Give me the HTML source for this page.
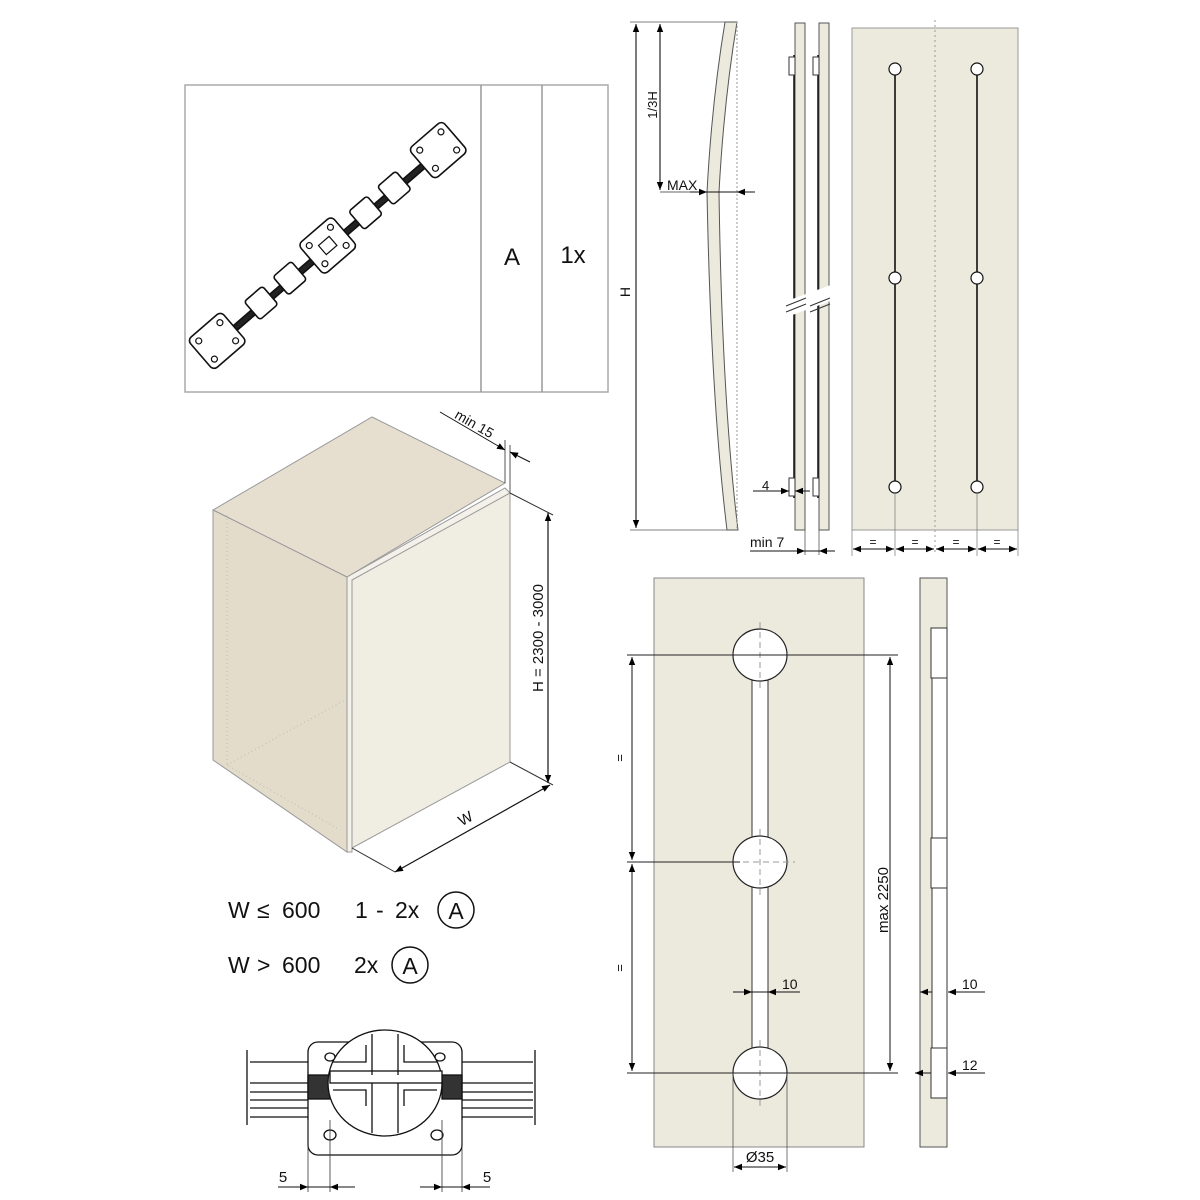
<!DOCTYPE html>
<html><head><meta charset="utf-8"><style>
html,body{margin:0;padding:0;background:#fff}
svg{display:block}
text{font-family:"Liberation Sans","DejaVu Sans",sans-serif;fill:#111}
</style></head><body>
<svg width="1200" height="1200" viewBox="0 0 1200 1200" xmlns="http://www.w3.org/2000/svg">
<defs>
<marker id="a" viewBox="0 0 10 10" refX="10" refY="5" markerWidth="11" markerHeight="8" orient="auto-start-reverse" markerUnits="userSpaceOnUse"><path d="M0,1 L10,5 L0,9 z" fill="#000"/></marker>
</defs>

<!-- top box -->
<rect x="185" y="85" width="423" height="307" fill="#fff" stroke="#aaa" stroke-width="1.5"/>
<line x1="481" y1="85" x2="481" y2="392" stroke="#999" stroke-width="1.5"/>
<line x1="542" y1="85" x2="542" y2="392" stroke="#999" stroke-width="1.5"/>
<text x="512" y="265" font-size="24" text-anchor="middle">A</text>
<text x="573" y="263" font-size="24" text-anchor="middle">1x</text>

<!-- chain -->
<g transform="translate(329,247) rotate(-40.8)" stroke="#111" stroke-width="1.6" fill="#fff">
  <rect x="-165" y="-3" width="330" height="6" fill="#222"/>
  <rect x="-168" y="-22" width="44" height="40" rx="5"/>
  <rect x="-100" y="-14" width="24" height="24" rx="3"/>
  <rect x="-62" y="-14" width="24" height="24" rx="3"/>
  <rect x="-22" y="-22" width="44" height="40" rx="5"/>
  <rect x="38" y="-14" width="24" height="24" rx="3"/>
  <rect x="76" y="-14" width="24" height="24" rx="3"/>
  <rect x="124" y="-22" width="44" height="40" rx="5"/>
  <g fill="none" stroke-width="1.2">
    <circle cx="-160" cy="-14" r="3"/><circle cx="-132" cy="-14" r="3"/><circle cx="-160" cy="10" r="3"/><circle cx="-132" cy="10" r="3"/>
    <circle cx="132" cy="-14" r="3"/><circle cx="160" cy="-14" r="3"/><circle cx="132" cy="10" r="3"/><circle cx="160" cy="10" r="3"/>
    <circle cx="-14" cy="-14" r="3"/><circle cx="14" cy="-14" r="3"/><circle cx="-14" cy="10" r="3"/><circle cx="14" cy="10" r="3"/>
    <rect x="-7" y="-8" width="14" height="12"/>
  </g>
</g>

<!-- cabinet -->
<polygon points="213,510 372,417 505,483 347,577" fill="#e6dfd0" stroke="#999" stroke-width="1"/>
<polygon points="213,510 347,577 347,852 213,760" fill="#e3dccb" stroke="#999" stroke-width="1"/>
<polyline points="227,515 227,765 340,830" fill="none" stroke="#bbb" stroke-dasharray="1,3"/>
<polyline points="227,765 345,700" fill="none" stroke="#bbb" stroke-dasharray="1,3"/>
<polygon points="347,577 505,488 510,493 352,582 352,852 347,852" fill="#f3f1ea" stroke="#999" stroke-width="1"/>
<polygon points="352,580 510,493 510,762 352,848" fill="#f0ede2" stroke="#999" stroke-width="1"/>
<line x1="510" y1="493" x2="553" y2="515" stroke="#333" stroke-width="1"/>
<line x1="510" y1="762" x2="553" y2="785" stroke="#333" stroke-width="1"/>
<line x1="548" y1="513" x2="548" y2="783" stroke="#111" stroke-width="1.2" marker-start="url(#a)" marker-end="url(#a)"/>
<text transform="translate(543,638) rotate(-90)" font-size="15" text-anchor="middle">H = 2300 - 3000</text>
<line x1="352" y1="848" x2="395" y2="872" stroke="#333" stroke-width="1"/>
<line x1="395" y1="872" x2="550" y2="785" stroke="#111" stroke-width="1.2" marker-start="url(#a)" marker-end="url(#a)"/>
<text transform="translate(468,823) rotate(-29)" font-size="15" text-anchor="middle">W</text>
<line x1="505" y1="483" x2="505" y2="440" stroke="#555" stroke-width="1"/>
<line x1="510" y1="493" x2="510" y2="445" stroke="#555" stroke-width="1"/>
<line x1="440" y1="412" x2="505" y2="450" stroke="#111" stroke-width="1" marker-end="url(#a)"/>
<line x1="530" y1="462" x2="510" y2="452" stroke="#111" stroke-width="1" marker-end="url(#a)"/>
<text transform="translate(472,428) rotate(30)" font-size="14" text-anchor="middle">min 15</text>

<!-- W texts -->
<text y="918" font-size="23"><tspan x="228">W</tspan><tspan x="257">≤</tspan><tspan x="282">600</tspan><tspan x="355">1</tspan><tspan x="376">-</tspan><tspan x="395">2x</tspan></text>
<circle cx="456" cy="910" r="18" fill="none" stroke="#111" stroke-width="1.5"/>
<text x="456" y="919" font-size="23" text-anchor="middle">A</text>
<text y="973" font-size="23"><tspan x="228">W</tspan><tspan x="257">&gt;</tspan><tspan x="282">600</tspan><tspan x="354">2x</tspan></text>
<circle cx="410" cy="965" r="18" fill="none" stroke="#111" stroke-width="1.5"/>
<text x="410" y="974" font-size="23" text-anchor="middle">A</text>

<!-- bottom fitting -->
<g stroke="#111" stroke-width="1.3" fill="#fff">
  <path d="M247,1050 L247,1125 M535,1050 L535,1125" fill="none"/>
  <path d="M250,1062 H308 M250,1083 H308 M250,1092 H308 M250,1100 H308 M250,1108 H308 M250,1117 H308" fill="none"/>
  <path d="M462,1062 H533 M462,1083 H533 M462,1092 H533 M462,1100 H533 M462,1108 H533 M462,1117 H533" fill="none"/>
  <rect x="308" y="1042" width="154" height="113" rx="10"/>
  <rect x="308" y="1075" width="22" height="24" fill="#333"/>
  <rect x="442" y="1075" width="20" height="24" fill="#333"/>
  <ellipse cx="385" cy="1083" rx="57" ry="53"/>
  <rect x="330" y="1071" width="112" height="12"/>
  <path d="M372,1034 V1075 M398,1034 V1075 M372,1083 V1133 M398,1083 V1133 M333,1062 H366 V1045 M404,1045 V1062 H437 M333,1090 H366 V1106 M404,1106 V1090 H437" fill="none"/>
  <ellipse cx="330" cy="1057" rx="5" ry="4"/><ellipse cx="440" cy="1057" rx="5" ry="4"/>
  <ellipse cx="330" cy="1135" rx="6" ry="5"/><ellipse cx="437" cy="1135" rx="6" ry="5"/>
</g>
<g stroke="#333" stroke-width="0.8">
  <line x1="308" y1="1120" x2="308" y2="1192"/><line x1="330" y1="1120" x2="330" y2="1192"/>
  <line x1="442" y1="1120" x2="442" y2="1192"/><line x1="462" y1="1120" x2="462" y2="1192"/>
</g>
<line x1="278" y1="1187" x2="308" y2="1187" stroke="#111" marker-end="url(#a)"/>
<line x1="355" y1="1187" x2="330" y2="1187" stroke="#111" marker-end="url(#a)"/>
<line x1="308" y1="1187" x2="330" y2="1187" stroke="#111"/>
<line x1="420" y1="1187" x2="442" y2="1187" stroke="#111" marker-end="url(#a)"/>
<line x1="490" y1="1187" x2="462" y2="1187" stroke="#111" marker-end="url(#a)"/>
<line x1="442" y1="1187" x2="462" y2="1187" stroke="#111"/>
<text x="283" y="1182" font-size="15" text-anchor="middle">5</text>
<text x="487" y="1182" font-size="15" text-anchor="middle">5</text>

<!-- top right: bent panel -->
<line x1="630" y1="22" x2="730" y2="22" stroke="#555" stroke-width="0.8"/>
<line x1="630" y1="530" x2="730" y2="530" stroke="#555" stroke-width="0.8"/>
<line x1="636" y1="24" x2="636" y2="528" stroke="#111" stroke-width="1.1" marker-start="url(#a)" marker-end="url(#a)"/>
<text transform="translate(630,292) rotate(-90)" font-size="14" text-anchor="middle">H</text>
<line x1="660" y1="24" x2="660" y2="190" stroke="#111" stroke-width="1.1" marker-start="url(#a)" marker-end="url(#a)"/>
<text transform="translate(657,105) rotate(-90)" font-size="13" text-anchor="middle">1/3H</text>
<line x1="660" y1="192" x2="705" y2="192" stroke="#333" stroke-width="0.8"/>
<text x="667" y="190" font-size="14">MAX</text>
<path d="M725,22 H737 Q724,100 719,192 Q722,400 738,530 H727 Q711,400 707,192 Q712,100 725,22 Z" fill="#ece9dd" stroke="#555" stroke-width="1"/>
<line x1="737" y1="22" x2="737" y2="530" stroke="#999" stroke-dasharray="2,2"/>
<line x1="690" y1="192" x2="707" y2="192" stroke="#111" marker-end="url(#a)"/>
<line x1="755" y1="192" x2="737" y2="192" stroke="#111" marker-end="url(#a)"/>
<line x1="707" y1="192" x2="737" y2="192" stroke="#111"/>

<!-- strips -->
<rect x="795" y="23" width="10" height="507" fill="#ece9dd" stroke="#555"/>
<rect x="819" y="23" width="10" height="507" fill="#ece9dd" stroke="#555"/>
<g stroke="#111" stroke-width="1.5"><line x1="794" y1="55" x2="794" y2="498"/><line x1="818" y1="55" x2="818" y2="498"/></g>
<g fill="#fff" stroke="#333"><rect x="789" y="57" width="6" height="18"/><rect x="813" y="57" width="6" height="18"/><rect x="789" y="478" width="6" height="18"/><rect x="813" y="478" width="6" height="18"/></g>
<rect x="785" y="293" width="50" height="15" fill="#fff" transform="rotate(-20 810 300)"/>
<g stroke="#333"><line x1="786" y1="306" x2="806" y2="298"/><line x1="786" y1="312" x2="806" y2="304"/><line x1="810" y1="306" x2="830" y2="298"/><line x1="810" y1="312" x2="830" y2="304"/></g>
<line x1="753" y1="491" x2="789" y2="491" stroke="#111" marker-end="url(#a)"/>
<line x1="810" y1="491" x2="795" y2="491" stroke="#111" marker-end="url(#a)"/>
<text x="762" y="490" font-size="13">4</text>
<line x1="805" y1="530" x2="805" y2="555" stroke="#555" stroke-width="0.8"/><line x1="819" y1="530" x2="819" y2="555" stroke="#555" stroke-width="0.8"/>
<line x1="750" y1="551" x2="805" y2="551" stroke="#111" marker-end="url(#a)"/>
<line x1="835" y1="551" x2="819" y2="551" stroke="#111" marker-end="url(#a)"/>
<line x1="805" y1="551" x2="819" y2="551" stroke="#111"/>
<text x="750" y="547" font-size="14">min 7</text>

<!-- panel with 2 rails -->
<rect x="852" y="28" width="166" height="502" fill="#ece9dd" stroke="#999"/>
<line x1="935" y1="20" x2="935" y2="555" stroke="#999" stroke-dasharray="2,3"/>
<g stroke="#111" stroke-width="1.6"><line x1="895" y1="68" x2="895" y2="487"/><line x1="977" y1="68" x2="977" y2="487"/></g>
<g fill="#fff" stroke="#111" stroke-width="1.2">
<ellipse cx="895" cy="69" rx="6" ry="6"/><ellipse cx="977" cy="69" rx="6" ry="6"/>
<ellipse cx="895" cy="278" rx="6" ry="6"/><ellipse cx="977" cy="278" rx="6" ry="6"/>
<ellipse cx="895" cy="487" rx="6" ry="6"/><ellipse cx="977" cy="487" rx="6" ry="6"/></g>
<g stroke="#777" stroke-width="0.7"><line x1="852" y1="530" x2="852" y2="556"/><line x1="895" y1="493" x2="895" y2="556"/><line x1="977" y1="493" x2="977" y2="556"/><line x1="1018" y1="530" x2="1018" y2="556"/></g>
<g stroke="#111" stroke-width="1">
<line x1="873" y1="549" x2="853" y2="549" marker-end="url(#a)"/><line x1="873" y1="549" x2="894" y2="549" marker-end="url(#a)"/>
<line x1="915" y1="549" x2="896" y2="549" marker-end="url(#a)"/><line x1="915" y1="549" x2="934" y2="549" marker-end="url(#a)"/>
<line x1="956" y1="549" x2="936" y2="549" marker-end="url(#a)"/><line x1="956" y1="549" x2="976" y2="549" marker-end="url(#a)"/>
<line x1="997" y1="549" x2="978" y2="549" marker-end="url(#a)"/><line x1="997" y1="549" x2="1017" y2="549" marker-end="url(#a)"/>
</g>
<g font-size="12" text-anchor="middle"><text x="873" y="546">=</text><text x="915" y="546">=</text><text x="956" y="546">=</text><text x="997" y="546">=</text></g>

<!-- big panel bottom right -->
<rect x="654" y="578" width="210" height="569" fill="#ece9dd" stroke="#888"/>
<rect x="752" y="670" width="16" height="390" fill="#fff" stroke="#333"/>
<g fill="#fff" stroke="#222" stroke-width="1.2">
<ellipse cx="760" cy="655" rx="27" ry="26"/><ellipse cx="760" cy="862" rx="27" ry="26"/><ellipse cx="760" cy="1073" rx="27" ry="26"/></g>
<g stroke="#999" stroke-dasharray="6,4"><line x1="760" y1="622" x2="760" y2="690"/><line x1="760" y1="829" x2="760" y2="897"/><line x1="760" y1="1040" x2="760" y2="1108"/><line x1="733" y1="862" x2="795" y2="862"/></g>
<g stroke="#222" stroke-width="1"><line x1="627" y1="655" x2="898" y2="655"/><line x1="627" y1="862" x2="740" y2="862"/><line x1="627" y1="1073" x2="898" y2="1073"/></g>
<line x1="632" y1="657" x2="632" y2="860" stroke="#111" marker-start="url(#a)" marker-end="url(#a)"/>
<line x1="632" y1="864" x2="632" y2="1071" stroke="#111" marker-start="url(#a)" marker-end="url(#a)"/>
<text transform="translate(624,758) rotate(-90)" font-size="13" text-anchor="middle">=</text>
<text transform="translate(624,968) rotate(-90)" font-size="13" text-anchor="middle">=</text>
<line x1="890" y1="657" x2="890" y2="1071" stroke="#111" marker-start="url(#a)" marker-end="url(#a)"/>
<text transform="translate(888,900) rotate(-90)" font-size="15" text-anchor="middle">max 2250</text>
<line x1="733" y1="992" x2="752" y2="992" stroke="#111" marker-end="url(#a)"/>
<line x1="800" y1="992" x2="768" y2="992" stroke="#111" marker-end="url(#a)"/>
<line x1="752" y1="992" x2="768" y2="992" stroke="#111"/>
<text x="782" y="989" font-size="14">10</text>
<g stroke="#555" stroke-width="0.8"><line x1="733" y1="1073" x2="733" y2="1172"/><line x1="787" y1="1073" x2="787" y2="1172"/></g>
<line x1="760" y1="1167" x2="734" y2="1167" stroke="#111" marker-end="url(#a)"/>
<line x1="760" y1="1167" x2="786" y2="1167" stroke="#111" marker-end="url(#a)"/>
<text x="760" y="1162" font-size="15" text-anchor="middle">Ø35</text>

<!-- side strip -->
<rect x="920" y="578" width="27" height="569" fill="#ece9dd" stroke="#555"/>
<rect x="932" y="628" width="15" height="470" fill="#fff" stroke="#333"/>
<g fill="#fff" stroke="#333"><rect x="931" y="628" width="16" height="50"/><rect x="931" y="838" width="16" height="50"/><rect x="931" y="1048" width="16" height="50"/></g>
<line x1="920" y1="992" x2="932" y2="992" stroke="#111" marker-start="url(#a)"/>
<line x1="985" y1="992" x2="948" y2="992" stroke="#111" marker-end="url(#a)"/>
<text x="962" y="989" font-size="14">10</text>
<line x1="915" y1="1073" x2="931" y2="1073" stroke="#111" marker-start="url(#a)"/>
<line x1="985" y1="1073" x2="948" y2="1073" stroke="#111" marker-end="url(#a)"/>
<text x="962" y="1070" font-size="14">12</text>
</svg>
</body></html>
